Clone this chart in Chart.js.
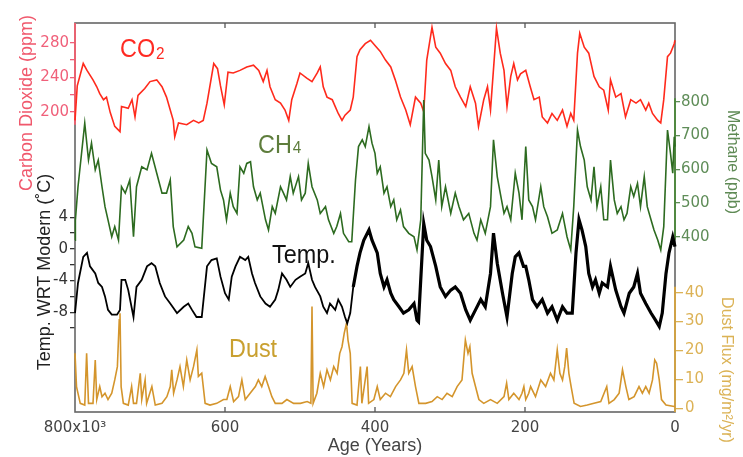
<!DOCTYPE html>
<html><head><meta charset="utf-8">
<script src="https://cdn.jsdelivr.net/npm/chart.js@4/dist/chart.umd.min.js"></script>
<style>html,body{margin:0;padding:0;background:#fff;overflow:hidden}#wrap{width:743px;height:457px}</style>
</head><body><div id="wrap"><canvas id="c" width="743" height="457"></canvas></div>
<script>
// ---- Data (age in kyr before present) ----
const co2Age = [800,797,789,784,776,771,767,762,758,753,747,740,738,729,724,720,716,707,700,691,684,678,673,669,667,662,651,642,635,629,624,615,610,606,601,596,589,580,571,562,555,549,544,540,533,526,520,515,511,504,500,491,484,477,473,469,464,457,453,449,444,440,433,429,424,420,413,406,400,393,386,379,373,366,359,353,346,339,335,331,324,319,313,306,299,293,286,279,273,266,262,255,250,246,238,233,228,224,219,215,210,206,199,193,188,181,177,170,164,157,150,144,139,135,130,127,121,115,108,101,95,89,86,79,72,66,59,52,46,39,35,30,23,19,15,10,6,1,0];
const co2Ppm = [190,230,256,248,237,229,221,214,217,199,183,177,206,204,214,194,219,227,235,237,229,217,202,190,171,187,185,190,187,190,210,256,250,230,208,246,245,248,252,254,248,235,248,229,214,210,202,190,214,233,245,239,235,245,252,229,217,214,206,198,190,196,202,217,264,272,279,283,277,270,260,252,237,217,202,185,217,210,200,260,298,275,268,256,248,229,217,206,229,210,183,214,229,202,297,268,248,206,241,256,237,244,248,229,214,217,194,187,198,190,202,183,198,190,268,291,275,268,241,229,225,202,237,217,221,194,214,210,214,202,210,198,190,187,214,264,268,279,283];

const ch4Age = [800,799.5,796,787,782,778,773,769,764,760,756,751,747,742,738,733,727,722,718,711,704,698,691,684,678,673,669,664,655,649,644,640,631,624,618,611,606,602,598,593,589,584,580,575,571,566,562,557,553,546,542,537,533,526,522,518,513,509,502,498,493,489,484,477,473,466,462,455,451,446,442,435,431,426,422,417,413,408,404,400,397,393,388,384,379,375,371,366,362,355,348,344,339,335,333,328,324,319,315,311,306,299,293,288,282,275,268,264,259,253,246,242,237,233,228,224,219,213,208,204,199,195,190,186,179,175,170,164,157,150,144,139,135,130,126,121,117,112,108,104,99,95,90,86,81,77,72,68,64,59,55,50,46,41,37,32,28,23,19,15,10,6,3,1,0];
const ch4Ppb = [390,449,548,736,627,677,598,627,548,489,450,400,430,390,548,529,568,400,548,607,598,647,588,529,529,568,430,370,390,430,410,370,366,657,617,607,538,509,450,529,489,469,607,588,617,622,548,509,529,450,420,489,469,548,529,509,578,529,578,509,529,617,548,509,469,489,450,410,430,469,410,385,385,568,667,687,667,726,677,647,588,607,529,548,489,509,450,479,430,410,400,361,450,805,647,627,578,509,627,489,548,469,529,489,450,469,410,390,450,410,489,687,578,529,469,489,450,588,529,450,667,509,489,450,548,489,459,410,420,469,400,361,489,716,667,627,548,509,607,489,548,450,450,627,509,469,489,450,469,548,519,558,489,578,489,450,420,390,361,430,716,647,588,696,667];

const tempAge = [800,796,789,784,780,773,769,764,760,756,751,744,740,738,733,729,722,718,711,704,698,693,687,680,673,664,655,649,644,638,631,624,618,611,606,600,595,591,586,580,573,569,564,560,553,546,540,533,529,524,518,513,506,500,493,489,484,480,473,469,464,460,453,449,444,440,437,433,429,424,420,415,408,404,397,393,388,384,379,375,368,362,355,348,344,342,335,331,326,319,313,306,299,293,286,279,273,266,259,253,246,242,237,230,224,217,213,208,202,199,195,190,184,177,170,164,157,150,144,137,132,128,124,119,115,110,106,101,97,90,86,79,72,68,61,55,50,46,39,32,26,21,17,12,8,3,0];
const tempC = [-8.1,-4.3,-1.0,-0.5,-2.2,-3.1,-4.3,-4.8,-6.0,-7.7,-8.3,-8.3,-7.7,-3.9,-3.9,-5.2,-8.6,-4.8,-3.9,-2.2,-1.8,-2.2,-4.3,-6.0,-6.9,-8.1,-7.3,-6.9,-7.7,-8.6,-8.6,-2.2,-1.4,-1.2,-3.5,-5.6,-6.4,-3.5,-2.2,-1.0,-1.4,-1.0,-3.1,-4.3,-6.0,-6.9,-7.3,-6.4,-5.2,-3.1,-3.9,-4.8,-3.9,-3.5,-3.1,-1.8,-3.9,-4.8,-6.0,-7.3,-8.1,-6.9,-7.7,-6.4,-7.3,-8.6,-9.4,-8.1,-4.8,-2.2,-0.5,1.1,2.4,1.1,-0.5,-3.1,-4.8,-3.9,-5.6,-6.4,-7.3,-8.1,-7.7,-6.9,-9.0,-9.2,3.2,1.1,0.3,-2.2,-4.8,-6.0,-5.2,-4.8,-5.6,-7.7,-9.0,-7.7,-6.4,-7.3,-3.1,2.0,-1.8,-5.6,-8.6,-3.1,-1.0,-0.5,-2.2,-2.2,-3.9,-6.4,-7.3,-6.4,-8.1,-7.3,-9.0,-7.3,-8.1,-8.1,-0.5,3.7,2.4,0.3,-3.1,-4.8,-3.9,-5.6,-4.3,-4.8,-2.2,-5.2,-7.3,-8.1,-5.6,-4.8,-3.1,-5.6,-6.9,-8.1,-9.0,-9.8,-8.1,-3.1,-0.5,1.5,0.3];

const dustAge = [800,798,793,787,784.5,782,776,773,771,767,764,760,756,751,747,743.5,741,740,738.5,735.5,729,724.5,722,718,713,711,706.5,704.5,697.5,693,684,677.5,673,671,668.5,664,660,655.5,651,646.5,642,637.5,635.5,631,626.5,620,611,602,597.5,593,588.5,582,577.5,573,566.5,559.5,555.5,551,546.5,542,537.5,533,524,517.5,508.5,499.5,490.5,485.5,484,482.5,477.5,473,468.5,464,459.5,455,450.5,447,444,441,438,436,433,430.5,424,419.5,417.5,410.5,408.5,401.5,397,393,386,379.5,372.5,366,361.5,358,355,350.5,346,341.5,332.5,324,317,310.5,304,297,290.5,284,279.5,276,273.5,270.5,266,261.5,255,246,237,228,224.5,221.5,215,208,204,201.5,199,195,192.5,186,179,172.5,166,161.5,157,153.5,150,147,144.5,141.5,138.5,134.5,126,117,108,99,91,88,81,74.5,70,65.5,61.5,54.5,48,43.5,39,34.5,30,27,24.5,21,18,12,1,0];
const dustFlux = [19,7.5,1.7,1.1,19,1.7,1.7,16.7,3,7.5,4,5.2,3,5.2,9.8,14.4,30.6,32.9,7.5,1.7,1.1,7.5,1.7,1.7,12.1,3,9.8,1.7,7.5,1.1,1.7,4,7.5,13.3,5.2,9.8,14.4,7.5,16.7,9.8,14.4,20.2,11,12.1,1.7,1.1,1.7,3,3,7.5,2.3,4,9.8,3,5.2,7.5,9.8,7.5,11,7.5,4,1.7,1.7,3,1.7,1.7,2.3,1.7,35.2,1.7,5.2,12.1,7.5,13.3,9.8,14.4,12.1,19,21.3,26,29.4,23.6,19,1.7,1.1,14.4,1.7,14.4,1.7,3,7.5,3,5.2,4,7.5,9.8,12.1,20.2,12.1,14.4,7.5,1.7,1.7,2.3,4,3,5.2,4,7.5,9.8,23.6,19,21.3,12.1,7.5,3,1.7,3,1.7,4,8.7,3,5.2,3,5.2,7.5,3,5.2,7.5,4,9.8,7.5,12.1,9.8,20.2,12.1,9.8,14.4,20.8,12.1,7.5,1.7,0.6,1.1,1.7,2.3,7.5,1.7,3,5.2,13.3,7.5,3,4,7.5,5.2,7.5,5.2,9.8,16.7,15.6,9.8,3,1.1,0.6,0.6];

// ---- Tick labels ----
const xTicks = [800,600,400,200,0];
const co2Ticks = [200,220,240,260,280];
const co2Labeled = [200,240,280];
const tempTicks = [4,2,0,-2,-4,-6,-8,-10];
const tempLabeled = [4,0,-4,-8];
const ch4Ticks = [800,700,600,500,400];
const dustTicks = [40,30,20,10,0];

function pts(a, v) { return a.map((x, i) => ({x: x, y: v[i]})); }

function yAxis(pos, stack, stackWeight, weight, width, min, max, ticks, labeled, color, tickLen, pad) {
  return {
    type: 'linear', position: pos, stack: stack, stackWeight: stackWeight, weight: weight, min: min, max: max,
    afterBuildTicks: s => { s.ticks = ticks.map(v => ({value: v})); },
    afterFit: s => { s.width = width; },
    grid: {display: true, drawOnChartArea: false, drawTicks: true, tickLength: tickLen, color: color, lineWidth: 1.3},
    border: {display: false},
    ticks: {autoSkip: false, padding: pad, color: color,
      font: {family: 'DejaVu Sans', size: 15},
      callback: v => labeled.includes(v) ? String(v) : ''}
  };
}

function txt(ctx, s, x, y, size, color, opts) {
  opts = opts || {};
  ctx.save();
  ctx.translate(x, y);
  if (opts.rot) ctx.rotate(opts.rot);
  if (opts.sx) ctx.scale(opts.sx, 1);
  ctx.font = size + 'px "Liberation Sans", Arial, sans-serif';
  ctx.fillStyle = color;
  ctx.textAlign = opts.align || 'left';
  ctx.textBaseline = 'alphabetic';
  ctx.fillText(s, 0, 0);
  const w = ctx.measureText(s).width * (opts.sx || 1);
  ctx.restore();
  return w;
}

const decor = {
  id: 'decor',
  beforeDatasetsDraw(chart) {
    const {ctx, chartArea: a, scales: sc} = chart;
    ctx.save();
    ctx.strokeStyle = '#666'; ctx.lineWidth = 1.6;
    ctx.strokeRect(a.left, a.top, a.right - a.left, a.bottom - a.top);
    const seg = (x, s, v0, v1, col) => {
      ctx.strokeStyle = col; ctx.lineWidth = 1.8;
      ctx.beginPath(); ctx.moveTo(x, s.getPixelForValue(v0)); ctx.lineTo(x, s.getPixelForValue(v1)); ctx.stroke();
    };
    seg(a.left, sc.yCO2, 303, 185, '#f46070');
    seg(a.right, sc.yCH4, 810, 390, '#4c8a3a');
    seg(a.right, sc.yDust, 42, -1.3, '#d9a640');
    ctx.strokeStyle = '#555'; ctx.lineWidth = 1.3;
    for (const v of [600, 400, 200]) {
      const x = sc.x.getPixelForValue(v);
      ctx.beginPath(); ctx.moveTo(x, a.top); ctx.lineTo(x, a.top + 5); ctx.stroke();
      ctx.beginPath(); ctx.moveTo(x, a.bottom); ctx.lineTo(x, a.bottom - 5); ctx.stroke();
    }
    ctx.restore();
  },
  afterDraw(chart) {
    const {ctx, chartArea: a} = chart;
    const L = a.left, T = a.top;
    // in-plot series labels
    let w = txt(ctx, 'CO', L + 45, T + 34, 26, '#ff2a22', {sx: 0.9});
    txt(ctx, '2', L + 45 + w + 1, T + 36, 17, '#ff2a22', {sx: 0.9});
    w = txt(ctx, 'CH', L + 183, T + 130, 26, '#5e7d3c', {sx: 0.9});
    txt(ctx, '4', L + 183 + w + 1, T + 130, 17, '#5e7d3c', {sx: 0.9});
    txt(ctx, 'Temp.', L + 197, T + 240, 26, '#111', {sx: 0.9});
    txt(ctx, 'Dust', L + 154, T + 334, 26, '#c9a030', {sx: 0.9});
    // axis titles
    txt(ctx, 'Carbon Dioxide (ppm)', 31.5, 103, 18, '#f0586c', {rot: -Math.PI / 2, align: 'center'});
    txt(ctx, 'Temp. WRT Modern (˚C)', 50, 272, 18, '#222', {rot: -Math.PI / 2, align: 'center'});
    txt(ctx, 'Methane (ppb)', 728, 162, 16, '#5f8a55', {rot: Math.PI / 2, align: 'center'});
    txt(ctx, 'Dust Flux (mg/m²/yr)', 722, 370, 16, '#dbb255', {rot: Math.PI / 2, align: 'center'});
  }
};

new Chart(document.getElementById('c'), {
  type: 'line',
  data: {
    datasets: [
      {label: 'Temp', data: pts(tempAge, tempC), yAxisID: 'yTemp', borderColor: '#000', borderWidth: 1.8, order: 0, clip: false,
        segment: {borderWidth: c => c.p0.parsed.x < 432 ? 3.2 : 1.8}},
      {label: 'CH4', data: pts(ch4Age, ch4Ppb), yAxisID: 'yCH4', borderColor: '#2d6b20', borderWidth: 1.6, order: 1, clip: false},
      {label: 'CO2', data: pts(co2Age, co2Ppm), yAxisID: 'yCO2', borderColor: '#ff2a1c', borderWidth: 1.6, order: 2, clip: false},
      {label: 'Dust', data: pts(dustAge, dustFlux), yAxisID: 'yDust', borderColor: '#d4952c', borderWidth: 1.6, order: 3, clip: false}
    ]
  },
  options: {
    responsive: false, animation: false, devicePixelRatio: 1,
    layout: {padding: {top: 23, left: 0, right: 0, bottom: 0}},
    elements: {point: {radius: 0}, line: {tension: 0}},
    plugins: {legend: {display: false}, tooltip: {enabled: false}},
    scales: {
      x: {
        type: 'linear', position: 'bottom', reverse: true, min: 0, max: 800,
        afterBuildTicks: s => { s.ticks = xTicks.map(v => ({value: v})); },
        afterFit: s => { s.height = 45; },
        grid: {display: false, drawTicks: false}, border: {display: false},
        ticks: {autoSkip: false, maxRotation: 0, padding: 7, color: '#444',
          font: {family: 'DejaVu Sans', size: 15},
          callback: v => v === 800 ? '800x10³' : String(v)},
        title: {display: true, text: 'Age (Years)', color: '#444',
          font: {family: '"Liberation Sans", Arial, sans-serif', size: 18}, padding: {top: 0, bottom: 0}}
      },
      yCO2: yAxis('left', 'L', 152, 1, 75, 126.6, 303, co2Ticks, co2Labeled, '#f0607a', 5, 1),
      yTemp: yAxis('left', 'L', 237, 0, 75, -20.6, 9.34, tempTicks, tempLabeled, '#333', 5, 2),
      yCH4: yAxis('right', 'R', 237, 0, 68, 331, 1033, ch4Ticks, ch4Ticks, '#5f8d58', 5, 1),
      yDust: yAxis('right', 'R', 152, 1, 68, -1.3, 51.3, dustTicks, dustTicks, '#dcb256', 8, 2)
    }
  },
  plugins: [decor]
});
</script></body></html>
